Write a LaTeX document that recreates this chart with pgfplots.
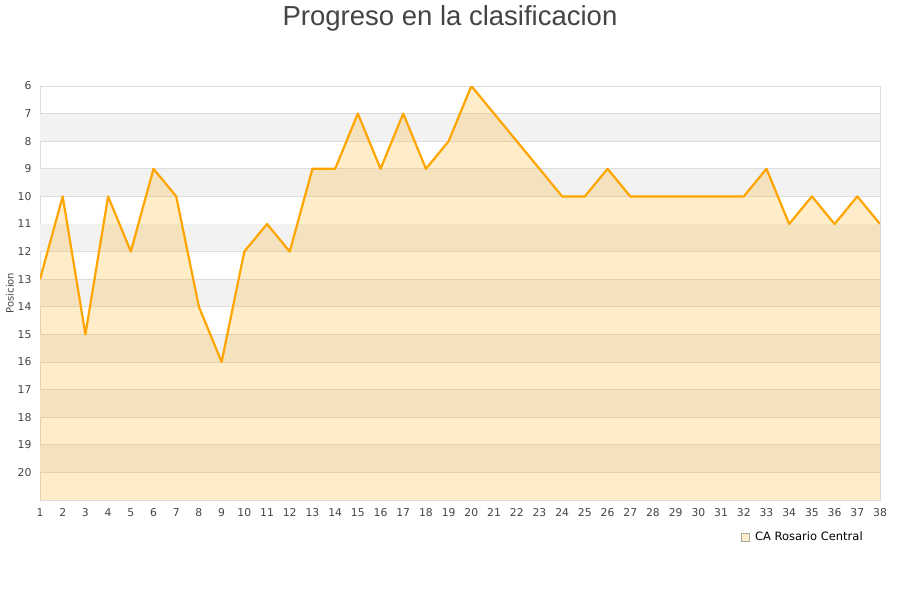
\documentclass[border=0pt]{standalone}
\usepackage{pgfplots}
\pgfplotsset{compat=1.18}
\usepackage{pgfplotstable}
\usepackage{fontspec}
\setmainfont{DejaVu Sans}
\newfontfamily\titlefont{Liberation Sans}

\definecolor{lineorange}{HTML}{FFA500}
\definecolor{gridgray}{HTML}{DDDDDD}
\definecolor{bandgray}{HTML}{F2F2F2}
\definecolor{titlegray}{HTML}{444444}
\definecolor{tickgray}{HTML}{444444}
\definecolor{legfill}{HTML}{FFECC9}

% jornada, posicion
\pgfplotstableread{
j pos
1 13
2 10
3 15
4 10
5 12
6 9
7 10
8 14
9 16
10 12
11 11
12 12
13 9
14 9
15 7
16 9
17 7
18 9
19 8
20 6
21 7
22 8
23 9
24 10
25 10
26 9
27 10
28 10
29 10
30 10
31 10
32 10
33 9
34 11
35 10
36 11
37 10
38 11
}\posdata

\begin{document}
\begin{tikzpicture}
\begin{axis}[
    at={(40pt,100pt)}, anchor=south west,
    scale only axis, width=840pt, height=414pt,
    xmin=1, xmax=38, ymin=6, ymax=21,
    y dir=reverse,
    xtick={1,...,38}, ytick={6,...,20},
    major tick style={draw=none},
    ymajorgrids,
    grid style={gridgray, line width=0.8pt},
    axis line style={gridgray, line width=0.8pt},
    ticklabel style={font=\fontsize{10.8}{12}\selectfont, text=tickgray},
    xticklabel style={yshift=-5pt},
    yticklabel style={xshift=-5pt},
    /pgf/number format/assume math mode=true,
    ylabel=Posicion,
    ylabel style={font=\fontsize{10}{12}\selectfont, text=tickgray, yshift=-3pt},
    legend style={at={(0.908,-0.089)}, anchor=center, draw=none, fill=none,
        font=\fontsize{11.5}{13}\selectfont},
]
% alternating bands, kept just inside the grid lines
\fill[bandgray] (axis cs:1,7.015) rectangle (axis cs:38,7.985);
\fill[bandgray] (axis cs:1,9.015) rectangle (axis cs:38,9.985);
\fill[bandgray] (axis cs:1,11.015) rectangle (axis cs:38,11.985);
\fill[bandgray] (axis cs:1,13.015) rectangle (axis cs:38,13.985);
\fill[bandgray] (axis cs:1,15.015) rectangle (axis cs:38,15.985);
\fill[bandgray] (axis cs:1,17.015) rectangle (axis cs:38,17.985);
\fill[bandgray] (axis cs:1,19.015) rectangle (axis cs:38,19.985);
\addplot[fill=lineorange, fill opacity=0.21, draw=none, forget plot]
    table[x=j, y=pos] {\posdata} -- (axis cs:38,21) -- (axis cs:1,21) -- cycle;
\addplot[lineorange, line width=2.2pt, line join=round, forget plot] table[x=j, y=pos] {\posdata};
\addlegendimage{legend image code/.code={
    \draw[fill=legfill, draw=gray!70] (0pt,-4pt) rectangle (8pt,4pt);
    \path (12pt,0pt);}}
\addlegendentry{CA Rosario Central}
\end{axis}
\path (0,0) rectangle (900pt,600pt);
\node[font=\titlefont\fontsize{27.5}{30}\selectfont, text=titlegray] at (450pt,582pt) {Progreso en la clasificacion};
\end{tikzpicture}
\end{document}
